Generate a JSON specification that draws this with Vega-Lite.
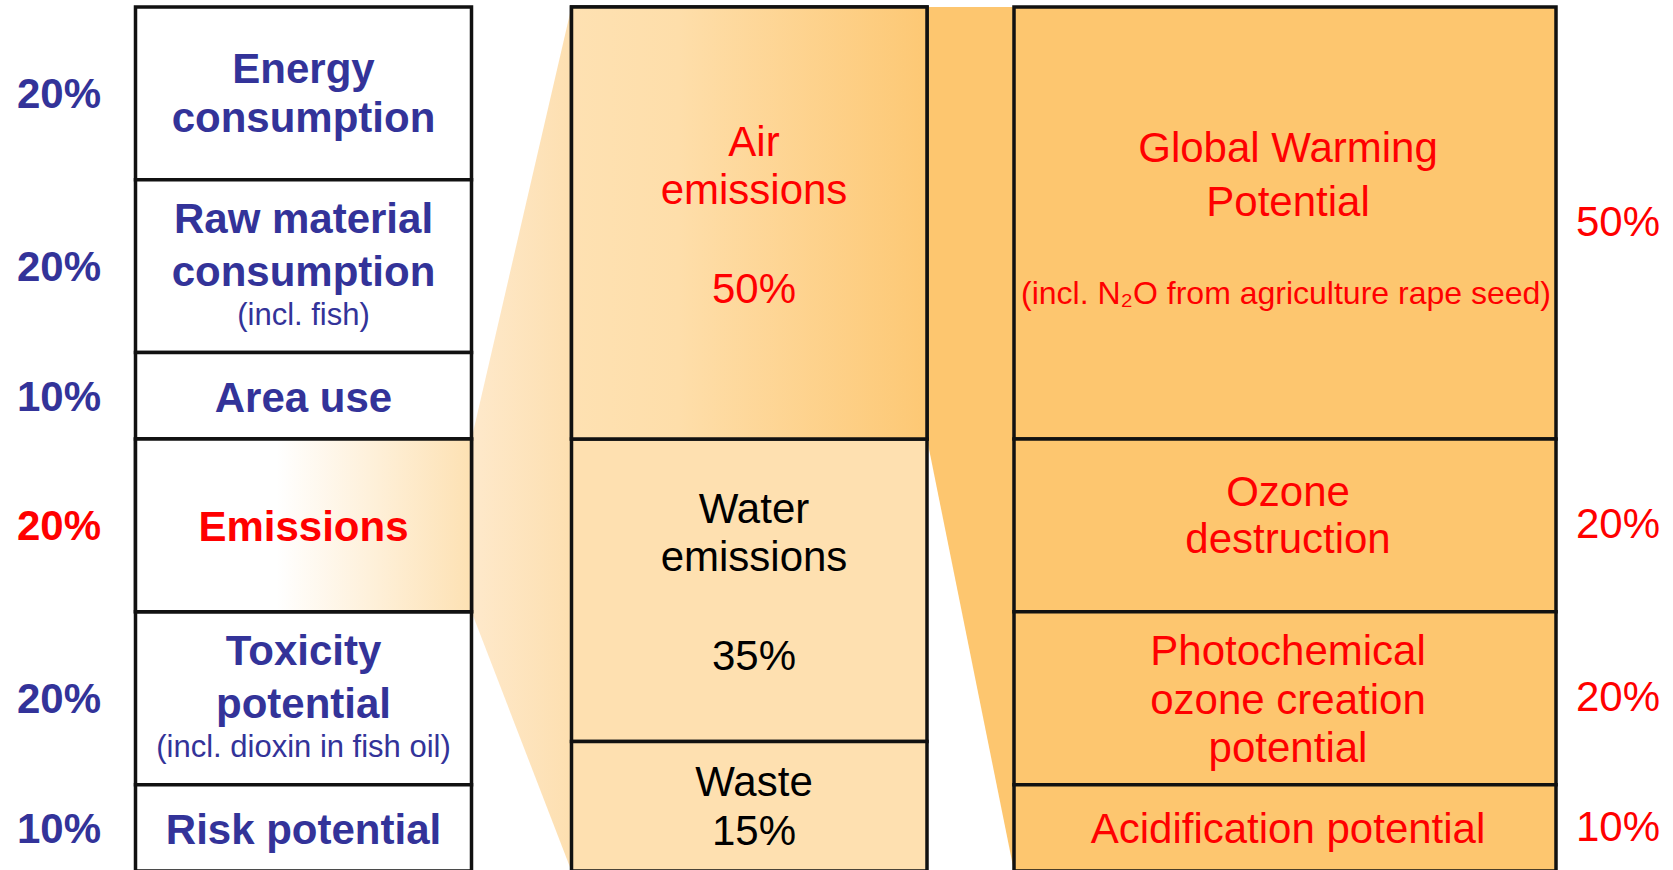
{
  "$schema": "https://vega.github.io/schema/vega-lite/v6.json",
  "width": 1673,
  "height": 870,
  "autosize": {"type": "none"},
  "padding": 0,
  "background": "white",
  "config": {"view": {"stroke": null}, "text": {"font": "Liberation Sans", "fontSize": 42, "align": "center", "baseline": "middle", "lineBreak": "\n"}},
  "datasets": {
    "criteria": [
      {"criterion": "Energy consumption", "label": "Energy\nconsumption", "share": 20},
      {"criterion": "Raw material consumption", "label": "Raw material\nconsumption", "note": "(incl. fish)", "share": 20},
      {"criterion": "Area use", "label": "Area use", "share": 10},
      {"criterion": "Emissions", "label": "Emissions", "share": 20},
      {"criterion": "Toxicity potential", "label": "Toxicity\npotential", "note": "(incl. dioxin in fish oil)", "share": 20},
      {"criterion": "Risk potential", "label": "Risk potential", "share": 10}
    ],
    "emissions": [
      {"type": "Air emissions", "label": "Air\nemissions", "share": 50},
      {"type": "Water emissions", "label": "Water\nemissions", "share": 35},
      {"type": "Waste", "label": "Waste", "share": 15}
    ],
    "air": [
      {"impact": "Global Warming Potential", "label": "Global Warming\nPotential", "note": "(incl. N₂O from agriculture rape seed)", "share": 50},
      {"impact": "Ozone destruction", "label": "Ozone\ndestruction", "share": 20},
      {"impact": "Photochemical ozone creation potential", "label": "Photochemical\nozone creation\npotential", "share": 20},
      {"impact": "Acidification potential", "label": "Acidification potential", "share": 10}
    ],
    "links": [
      {"link": "Emissions breakdown", "x": 471.5, "lo": 50, "hi": 70},
      {"link": "Emissions breakdown", "x": 571.5, "lo": 0, "hi": 100},
      {"link": "Air breakdown", "x": 927, "lo": 0, "hi": 50},
      {"link": "Air breakdown", "x": 1014, "lo": 0, "hi": 100}
    ]
  },
  "layer": [
    {
      "data": {"name": "links"},
      "transform": [{"filter": "datum.link === 'Emissions breakdown'"}],
      "mark": {"type": "area", "orient": "vertical", "interpolate": "linear",
        "fill": {"gradient": "linear", "x1": 0, "y1": 0, "x2": 1, "y2": 0, "stops": [{"offset": 0, "color": "#FEE9CB"}, {"offset": 1, "color": "#FDDFB0"}]}},
      "encoding": {
        "x": {"field": "x", "type": "quantitative", "scale": {"domain": [0, 1673], "nice": false, "zero": false}, "axis": null},
        "y": {"field": "lo", "type": "quantitative", "scale": {"domain": [-0.81, 99.88], "reverse": true, "nice": false, "zero": false}, "axis": null},
        "y2": {"field": "hi"}
      }
    },
    {
      "data": {"name": "links"},
      "transform": [{"filter": "datum.link === 'Air breakdown'"}],
      "mark": {"type": "area", "orient": "vertical", "interpolate": "linear", "fill": "#FDC66F"},
      "encoding": {
        "x": {"field": "x", "type": "quantitative", "scale": {"domain": [0, 1673], "nice": false, "zero": false}, "axis": null},
        "y": {"field": "lo", "type": "quantitative", "scale": {"domain": [-0.81, 99.88], "reverse": true, "nice": false, "zero": false}, "axis": null},
        "y2": {"field": "hi"}
      }
    },
    {
      "data": {"name": "criteria"},
      "transform": [{"stack": "share", "groupby": [], "as": ["y0", "y1"]}],
      "mark": {"type": "rect", "fill": "#FFFFFF", "stroke": "#111111", "strokeWidth": 3.5},
      "encoding": {
        "x": {"datum": 135.5, "type": "quantitative", "scale": {"domain": [0, 1673], "nice": false, "zero": false}, "axis": null},
        "x2": {"datum": 471.5},
        "y": {"field": "y0", "type": "quantitative", "scale": {"domain": [-0.81, 99.88], "reverse": true, "nice": false, "zero": false}, "axis": null},
        "y2": {"field": "y1"}
      }
    },
    {
      "data": {"name": "criteria"},
      "transform": [{"stack": "share", "groupby": [], "as": ["y0", "y1"]}, {"filter": "datum.criterion === 'Emissions'"}],
      "mark": {"type": "rect", "stroke": "#111111", "strokeWidth": 3.5,
        "fill": {"gradient": "linear", "x1": 0, "y1": 0, "x2": 1, "y2": 0, "stops": [{"offset": 0, "color": "#FFFFFF"}, {"offset": 0.42, "color": "#FFFFFF"}, {"offset": 1, "color": "#FDE1B3"}]}},
      "encoding": {
        "x": {"datum": 135.5, "type": "quantitative", "scale": {"domain": [0, 1673], "nice": false, "zero": false}, "axis": null},
        "x2": {"datum": 471.5},
        "y": {"field": "y0", "type": "quantitative", "scale": {"domain": [-0.81, 99.88], "reverse": true, "nice": false, "zero": false}, "axis": null},
        "y2": {"field": "y1"}
      }
    },
    {
      "data": {"name": "emissions"},
      "transform": [{"stack": "share", "groupby": [], "as": ["y0", "y1"]}],
      "mark": {"type": "rect", "fill": "#FEE0B0", "stroke": "#111111", "strokeWidth": 3.5},
      "encoding": {
        "x": {"datum": 571.5, "type": "quantitative", "scale": {"domain": [0, 1673], "nice": false, "zero": false}, "axis": null},
        "x2": {"datum": 927},
        "y": {"field": "y0", "type": "quantitative", "scale": {"domain": [-0.81, 99.88], "reverse": true, "nice": false, "zero": false}, "axis": null},
        "y2": {"field": "y1"}
      }
    },
    {
      "data": {"name": "emissions"},
      "transform": [{"stack": "share", "groupby": [], "as": ["y0", "y1"]}, {"filter": "datum.type === 'Air emissions'"}],
      "mark": {"type": "rect", "stroke": "#111111", "strokeWidth": 3.5,
        "fill": {"gradient": "linear", "x1": 0, "y1": 0, "x2": 1, "y2": 0, "stops": [{"offset": 0, "color": "#FEE1B2"}, {"offset": 0.3, "color": "#FEDEAA"}, {"offset": 1, "color": "#FDC874"}]}},
      "encoding": {
        "x": {"datum": 571.5, "type": "quantitative", "scale": {"domain": [0, 1673], "nice": false, "zero": false}, "axis": null},
        "x2": {"datum": 927},
        "y": {"field": "y0", "type": "quantitative", "scale": {"domain": [-0.81, 99.88], "reverse": true, "nice": false, "zero": false}, "axis": null},
        "y2": {"field": "y1"}
      }
    },
    {
      "data": {"name": "air"},
      "transform": [{"stack": "share", "groupby": [], "as": ["y0", "y1"]}],
      "mark": {"type": "rect", "fill": "#FDC66F", "stroke": "#111111", "strokeWidth": 3.5},
      "encoding": {
        "x": {"datum": 1014, "type": "quantitative", "scale": {"domain": [0, 1673], "nice": false, "zero": false}, "axis": null},
        "x2": {"datum": 1556},
        "y": {"field": "y0", "type": "quantitative", "scale": {"domain": [-0.81, 99.88], "reverse": true, "nice": false, "zero": false}, "axis": null},
        "y2": {"field": "y1"}
      }
    },
    {
      "data": {"name": "criteria"},
      "transform": [{"stack": "share", "groupby": [], "as": ["y0", "y1"]}, {"calculate": "(datum.y0 + datum.y1) / 2", "as": "mid"}, {"filter": "datum.criterion === 'Energy consumption'"}],
      "mark": {"type": "text", "fontWeight": "bold", "lineHeight": 49, "dy": -23, "color": "#333399"},
      "encoding": {
        "x": {"datum": 303.5, "type": "quantitative", "scale": {"domain": [0, 1673], "nice": false, "zero": false}, "axis": null},
        "y": {"field": "mid", "type": "quantitative", "scale": {"domain": [-0.81, 99.88], "reverse": true, "nice": false, "zero": false}, "axis": null},
        "text": {"field": "label"}
      }
    },
    {
      "data": {"name": "criteria"},
      "transform": [{"stack": "share", "groupby": [], "as": ["y0", "y1"]}, {"calculate": "(datum.y0 + datum.y1) / 2", "as": "mid"}, {"filter": "!datum.note && datum.criterion !== 'Energy consumption'"}],
      "mark": {"type": "text", "fontWeight": "bold", "dy": 3},
      "encoding": {
        "x": {"datum": 303.5, "type": "quantitative", "scale": {"domain": [0, 1673], "nice": false, "zero": false}, "axis": null},
        "y": {"field": "mid", "type": "quantitative", "scale": {"domain": [-0.81, 99.88], "reverse": true, "nice": false, "zero": false}, "axis": null},
        "text": {"field": "label"},
        "color": {"condition": {"test": "datum.criterion === 'Emissions'", "value": "#FF0000"}, "value": "#333399"}
      }
    },
    {
      "data": {"name": "criteria"},
      "transform": [{"stack": "share", "groupby": [], "as": ["y0", "y1"]}, {"calculate": "(datum.y0 + datum.y1) / 2", "as": "mid"}, {"filter": "datum.note"}],
      "mark": {"type": "text", "fontWeight": "bold", "lineHeight": 53, "dy": -46, "color": "#333399"},
      "encoding": {
        "x": {"datum": 303.5, "type": "quantitative", "scale": {"domain": [0, 1673], "nice": false, "zero": false}, "axis": null},
        "y": {"field": "mid", "type": "quantitative", "scale": {"domain": [-0.81, 99.88], "reverse": true, "nice": false, "zero": false}, "axis": null},
        "text": {"field": "label"}
      }
    },
    {
      "data": {"name": "criteria"},
      "transform": [{"stack": "share", "groupby": [], "as": ["y0", "y1"]}, {"calculate": "(datum.y0 + datum.y1) / 2", "as": "mid"}, {"filter": "datum.note"}],
      "mark": {"type": "text", "fontSize": 31, "dy": 50, "color": "#333399"},
      "encoding": {
        "x": {"datum": 303.5, "type": "quantitative", "scale": {"domain": [0, 1673], "nice": false, "zero": false}, "axis": null},
        "y": {"field": "mid", "type": "quantitative", "scale": {"domain": [-0.81, 99.88], "reverse": true, "nice": false, "zero": false}, "axis": null},
        "text": {"field": "note"}
      }
    },
    {
      "data": {"name": "criteria"},
      "transform": [{"stack": "share", "groupby": [], "as": ["y0", "y1"]}, {"calculate": "(datum.y0 + datum.y1) / 2", "as": "mid"}, {"calculate": "datum.share + '%'", "as": "pct"}],
      "mark": {"type": "text", "fontWeight": "bold", "dy": 2},
      "encoding": {
        "x": {"datum": 59, "type": "quantitative", "scale": {"domain": [0, 1673], "nice": false, "zero": false}, "axis": null},
        "y": {"field": "mid", "type": "quantitative", "scale": {"domain": [-0.81, 99.88], "reverse": true, "nice": false, "zero": false}, "axis": null},
        "text": {"field": "pct"},
        "color": {"condition": {"test": "datum.criterion === 'Emissions'", "value": "#FF0000"}, "value": "#333399"}
      }
    },
    {
      "data": {"name": "emissions"},
      "transform": [{"stack": "share", "groupby": [], "as": ["y0", "y1"]}, {"calculate": "(datum.y0 + datum.y1) / 2", "as": "mid"}, {"filter": "datum.type !== 'Waste'"}],
      "mark": {"type": "text", "lineHeight": 48, "dy": -80},
      "encoding": {
        "x": {"datum": 754, "type": "quantitative", "scale": {"domain": [0, 1673], "nice": false, "zero": false}, "axis": null},
        "y": {"field": "mid", "type": "quantitative", "scale": {"domain": [-0.81, 99.88], "reverse": true, "nice": false, "zero": false}, "axis": null},
        "text": {"field": "label"},
        "color": {"condition": {"test": "datum.type === 'Air emissions'", "value": "#FF0000"}, "value": "#000000"}
      }
    },
    {
      "data": {"name": "emissions"},
      "transform": [{"stack": "share", "groupby": [], "as": ["y0", "y1"]}, {"calculate": "(datum.y0 + datum.y1) / 2", "as": "mid"}, {"calculate": "datum.share + '%'", "as": "pct"}, {"filter": "datum.type !== 'Waste'"}],
      "mark": {"type": "text", "dy": 67},
      "encoding": {
        "x": {"datum": 754, "type": "quantitative", "scale": {"domain": [0, 1673], "nice": false, "zero": false}, "axis": null},
        "y": {"field": "mid", "type": "quantitative", "scale": {"domain": [-0.81, 99.88], "reverse": true, "nice": false, "zero": false}, "axis": null},
        "text": {"field": "pct"},
        "color": {"condition": {"test": "datum.type === 'Air emissions'", "value": "#FF0000"}, "value": "#000000"}
      }
    },
    {
      "data": {"name": "emissions"},
      "transform": [{"stack": "share", "groupby": [], "as": ["y0", "y1"]}, {"calculate": "(datum.y0 + datum.y1) / 2", "as": "mid"}, {"filter": "datum.type === 'Waste'"}],
      "mark": {"type": "text", "dy": -23, "color": "#000000"},
      "encoding": {
        "x": {"datum": 754, "type": "quantitative", "scale": {"domain": [0, 1673], "nice": false, "zero": false}, "axis": null},
        "y": {"field": "mid", "type": "quantitative", "scale": {"domain": [-0.81, 99.88], "reverse": true, "nice": false, "zero": false}, "axis": null},
        "text": {"field": "label"}
      }
    },
    {
      "data": {"name": "emissions"},
      "transform": [{"stack": "share", "groupby": [], "as": ["y0", "y1"]}, {"calculate": "(datum.y0 + datum.y1) / 2", "as": "mid"}, {"calculate": "datum.share + '%'", "as": "pct"}, {"filter": "datum.type === 'Waste'"}],
      "mark": {"type": "text", "dy": 26, "color": "#000000"},
      "encoding": {
        "x": {"datum": 754, "type": "quantitative", "scale": {"domain": [0, 1673], "nice": false, "zero": false}, "axis": null},
        "y": {"field": "mid", "type": "quantitative", "scale": {"domain": [-0.81, 99.88], "reverse": true, "nice": false, "zero": false}, "axis": null},
        "text": {"field": "pct"}
      }
    },
    {
      "data": {"name": "air"},
      "transform": [{"stack": "share", "groupby": [], "as": ["y0", "y1"]}, {"calculate": "(datum.y0 + datum.y1) / 2", "as": "mid"}, {"filter": "datum.impact === 'Global Warming Potential'"}],
      "mark": {"type": "text", "lineHeight": 54, "dy": -74, "color": "#FF0000"},
      "encoding": {
        "x": {"datum": 1288, "type": "quantitative", "scale": {"domain": [0, 1673], "nice": false, "zero": false}, "axis": null},
        "y": {"field": "mid", "type": "quantitative", "scale": {"domain": [-0.81, 99.88], "reverse": true, "nice": false, "zero": false}, "axis": null},
        "text": {"field": "label"}
      }
    },
    {
      "data": {"name": "air"},
      "transform": [{"stack": "share", "groupby": [], "as": ["y0", "y1"]}, {"calculate": "(datum.y0 + datum.y1) / 2", "as": "mid"}, {"filter": "datum.note"}],
      "mark": {"type": "text", "fontSize": 32, "dy": 71, "color": "#FF0000"},
      "encoding": {
        "x": {"datum": 1286, "type": "quantitative", "scale": {"domain": [0, 1673], "nice": false, "zero": false}, "axis": null},
        "y": {"field": "mid", "type": "quantitative", "scale": {"domain": [-0.81, 99.88], "reverse": true, "nice": false, "zero": false}, "axis": null},
        "text": {"field": "note"}
      }
    },
    {
      "data": {"name": "air"},
      "transform": [{"stack": "share", "groupby": [], "as": ["y0", "y1"]}, {"calculate": "(datum.y0 + datum.y1) / 2", "as": "mid"}, {"filter": "datum.impact === 'Ozone destruction'"}],
      "mark": {"type": "text", "lineHeight": 47, "dy": -32, "color": "#FF0000"},
      "encoding": {
        "x": {"datum": 1288, "type": "quantitative", "scale": {"domain": [0, 1673], "nice": false, "zero": false}, "axis": null},
        "y": {"field": "mid", "type": "quantitative", "scale": {"domain": [-0.81, 99.88], "reverse": true, "nice": false, "zero": false}, "axis": null},
        "text": {"field": "label"}
      }
    },
    {
      "data": {"name": "air"},
      "transform": [{"stack": "share", "groupby": [], "as": ["y0", "y1"]}, {"calculate": "(datum.y0 + datum.y1) / 2", "as": "mid"}, {"filter": "datum.impact === 'Photochemical ozone creation potential'"}],
      "mark": {"type": "text", "lineHeight": 48.5, "dy": -46, "color": "#FF0000"},
      "encoding": {
        "x": {"datum": 1288, "type": "quantitative", "scale": {"domain": [0, 1673], "nice": false, "zero": false}, "axis": null},
        "y": {"field": "mid", "type": "quantitative", "scale": {"domain": [-0.81, 99.88], "reverse": true, "nice": false, "zero": false}, "axis": null},
        "text": {"field": "label"}
      }
    },
    {
      "data": {"name": "air"},
      "transform": [{"stack": "share", "groupby": [], "as": ["y0", "y1"]}, {"calculate": "(datum.y0 + datum.y1) / 2", "as": "mid"}, {"filter": "datum.impact === 'Acidification potential'"}],
      "mark": {"type": "text", "dy": 2, "color": "#FF0000"},
      "encoding": {
        "x": {"datum": 1288, "type": "quantitative", "scale": {"domain": [0, 1673], "nice": false, "zero": false}, "axis": null},
        "y": {"field": "mid", "type": "quantitative", "scale": {"domain": [-0.81, 99.88], "reverse": true, "nice": false, "zero": false}, "axis": null},
        "text": {"field": "label"}
      }
    },
    {
      "data": {"name": "air"},
      "transform": [{"stack": "share", "groupby": [], "as": ["y0", "y1"]}, {"calculate": "(datum.y0 + datum.y1) / 2", "as": "mid"}, {"calculate": "datum.share + '%'", "as": "pct"}],
      "mark": {"type": "text", "color": "#FF0000"},
      "encoding": {
        "x": {"datum": 1618, "type": "quantitative", "scale": {"domain": [0, 1673], "nice": false, "zero": false}, "axis": null},
        "y": {"field": "mid", "type": "quantitative", "scale": {"domain": [-0.81, 99.88], "reverse": true, "nice": false, "zero": false}, "axis": null},
        "text": {"field": "pct"}
      }
    }
  ]
}
